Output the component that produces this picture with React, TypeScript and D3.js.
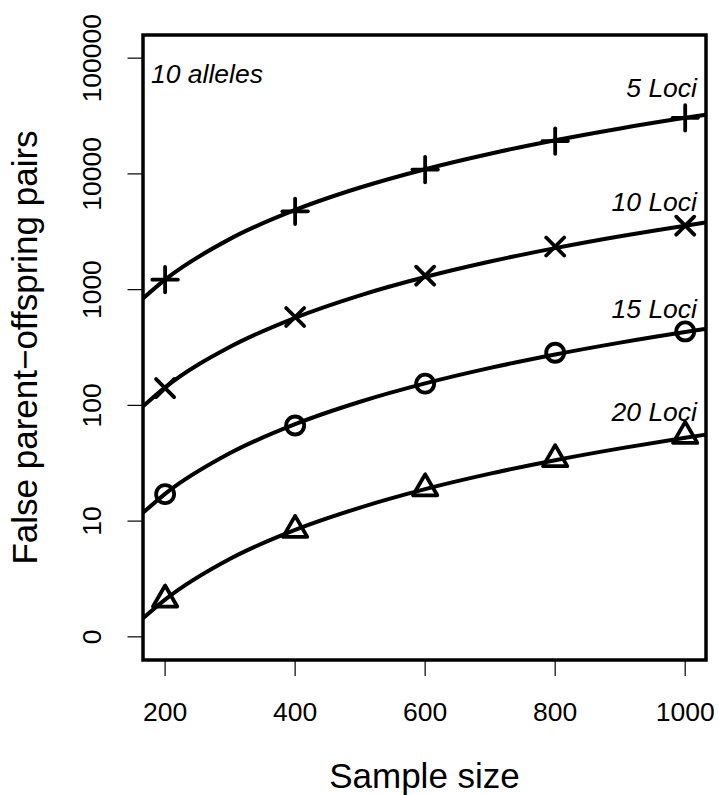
import React from "react";
import * as d3 from "d3";

const W = 719;
const H = 795;

const sampleSizes = [200, 400, 600, 800, 1000];
const xTickLabels = ["200", "400", "600", "800", "1000"];
const yTickValues = [1, 10, 100, 1000, 10000, 100000];
const yTickLabels = ["0", "10", "100", "1000", "10000", "100000"];

const seriesNames = ["5 Loci", "10 Loci", "15 Loci", "20 Loci"];
const seriesShapes = ["plus", "cross", "circle", "triangle"];

const points5 = [1220, 4750, 10900, 19200, 30500];
const points10 = [141, 580, 1320, 2360, 3570];
const points15 = [17.1, 67, 154, 285, 435];
const points20 = [2.1, 8.4, 19.2, 34.3, 54.5];

const curveX = [166, 200, 300, 400, 500, 600, 700, 800, 900, 1000, 1032];
const curve5 = [840, 1220, 2745, 4880, 7625, 10980, 14945, 19520, 24705, 30500, 32480];
const curve10 = [98, 143, 321, 571, 893, 1285, 1749, 2285, 2892, 3570, 3802];
const curve15 = [11.8, 17.2, 38.7, 68.8, 107.5, 154.8, 210.7, 275.2, 348.3, 430, 458];
const curve20 = [1.45, 2.1, 4.73, 8.4, 13.1, 18.9, 25.7, 33.6, 42.5, 52.5, 55.9];

const allPoints = [points5, points10, points15, points20];
const allCurves = [curve5, curve10, curve15, curve20];

const FONT = "Liberation Sans, Arial, Helvetica, sans-serif";

const left = 143;
const right = 706;
const top = 35;
const bottom = 660;

const x = d3.scaleLinear().domain([166, 1032]).range([left, right]);
const y = d3
  .scaleLog()
  .domain([Math.pow(10, -0.2), Math.pow(10, 5.2)])
  .range([bottom, top]);

const MR = 9; // base marker radius

function Marker({ shape, cx, cy }: { shape: string; cx: number; cy: number }) {
  const sw = 3.8;
  if (shape === "plus") {
    const a = MR * Math.SQRT2;
    return (
      <g stroke="#000" strokeWidth={sw} fill="none" strokeLinecap="round">
        <line x1={cx - a} x2={cx + a} y1={cy} y2={cy} />
        <line x1={cx} x2={cx} y1={cy - a} y2={cy + a} />
      </g>
    );
  }
  if (shape === "cross") {
    const a = MR;
    return (
      <g stroke="#000" strokeWidth={sw} fill="none" strokeLinecap="round">
        <line x1={cx - a} x2={cx + a} y1={cy - a} y2={cy + a} />
        <line x1={cx - a} x2={cx + a} y1={cy + a} y2={cy - a} />
      </g>
    );
  }
  if (shape === "circle") {
    return <circle cx={cx} cy={cy} r={MR} stroke="#000" strokeWidth={sw} fill="none" />;
  }
  const r = 1.5551 * MR;
  const hw = (r * Math.sqrt(3)) / 2;
  const pts = [
    [cx, cy - r],
    [cx - hw, cy + r / 2],
    [cx + hw, cy + r / 2],
  ]
    .map((p) => p.join(","))
    .join(" ");
  return <polygon points={pts} stroke="#000" strokeWidth={sw} fill="none" strokeLinejoin="round" />;
}

export default function App() {
  const line = d3
    .line<[number, number]>()
    .x((d) => x(d[0]))
    .y((d) => y(d[1]))
    .curve(d3.curveMonotoneX);

  const labelY = [96.7, 211, 318, 421];

  return (
    <svg
      width={W}
      height={H}
      style={{ position: "absolute", left: 0, top: 0, background: "#fff" }}
      fontFamily={FONT}
    >
      <rect x={0} y={0} width={W} height={H} fill="#fff" />
      <defs>
        <clipPath id="plotclip">
          <rect x={left} y={top} width={right - left} height={bottom - top} />
        </clipPath>
      </defs>

      {/* curves */}
      <g clipPath="url(#plotclip)">
        {allCurves.map((c, i) => (
          <path
            key={i}
            d={line(curveX.map((xv, j) => [xv, c[j]] as [number, number])) || ""}
            fill="none"
            stroke="#000"
            strokeWidth={4}
          />
        ))}
      </g>

      {/* markers */}
      {allPoints.map((pts, i) =>
        pts.map((v, j) => (
          <Marker key={`${i}-${j}`} shape={seriesShapes[i]} cx={x(sampleSizes[j])} cy={y(v)} />
        ))
      )}

      {/* series labels */}
      {seriesNames.map((n, i) => (
        <text
          key={n}
          x={697}
          y={labelY[i]}
          textAnchor="end"
          fontStyle="italic"
          fontSize={26.5}
          fill="#000"
        >
          {n}
        </text>
      ))}
      <text x={151} y={83} fontStyle="italic" fontSize={26.5} fill="#000">
        10 alleles
      </text>

      {/* box */}
      <rect
        x={left}
        y={top}
        width={right - left}
        height={bottom - top}
        fill="none"
        stroke="#000"
        strokeWidth={3.5}
      />

      {/* x axis */}
      {sampleSizes.map((v, i) => (
        <g key={v}>
          <line x1={x(v)} x2={x(v)} y1={bottom} y2={676} stroke="#000" strokeWidth={1.2} />
          <text x={x(v)} y={721} textAnchor="middle" fontSize={26.5} fill="#000">
            {xTickLabels[i]}
          </text>
        </g>
      ))}

      {/* y axis */}
      {yTickValues.map((v, i) => (
        <g key={v}>
          <line x1={127.5} x2={left} y1={y(v)} y2={y(v)} stroke="#000" strokeWidth={1.2} />
          <text
            transform={`translate(101,${y(v)}) rotate(-90)`}
            textAnchor="middle"
            fontSize={26.5}
            fill="#000"
          >
            {yTickLabels[i]}
          </text>
        </g>
      ))}

      {/* axis titles */}
      <text x={(left + right) / 2} y={788} textAnchor="middle" fontSize={35} fill="#000">
        Sample size
      </text>
      <text
        transform={`translate(37,${(top + bottom) / 2}) rotate(-90)`}
        textAnchor="middle"
        fontSize={35}
        fill="#000"
      >
        False parent−offspring pairs
      </text>
    </svg>
  );
}
